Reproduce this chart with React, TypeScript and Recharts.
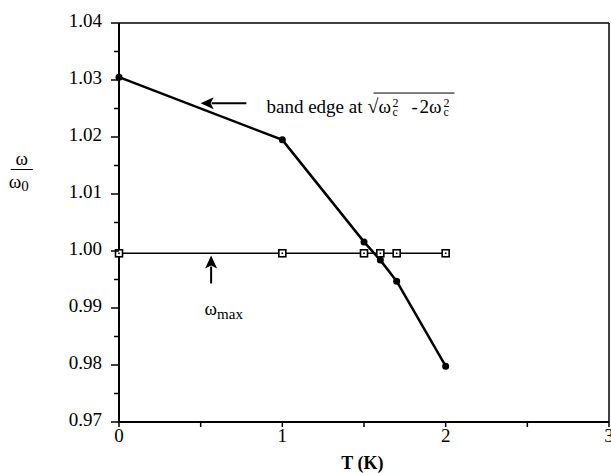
import React from 'react';
import { LineChart, Line, XAxis, YAxis, ReferenceLine, ReferenceDot } from 'recharts';

// temperatures (K) and the two frequency ratios
const temps = [0, 1, 1.5, 1.6, 1.7, 2];
const bandEdge = [1.0305, 1.0195, 1.0016, 0.9984, 0.9947, 0.9798];
const omegaMax = [0.9996, 0.9996, 0.9996, 0.9996, 0.9996, 0.9996];

const xTicks = [0, 0.5, 1, 1.5, 2, 2.5, 3];
const yTicks = [0.97, 0.975, 0.98, 0.985, 0.99, 0.995, 1.0, 1.005, 1.01, 1.015, 1.02, 1.025, 1.03, 1.035, 1.04];

const data = temps.map((T, i) => ({ T, edge: bandEdge[i], max: omegaMax[i] }));

const serif = { fontFamily: "'Liberation Serif', 'DejaVu Serif', serif" };

const YTick = (props: any) => {
    const { x, y, payload } = props;
    const v = payload.value;
    const major = Math.round(v * 1000) % 10 === 0;
    return (
        <g>
            <line x1={x - (major ? 8 : 5)} x2={x} y1={y} y2={y} stroke="#000" strokeWidth={1.5} />
            {major && (
                <text x={x - 17} y={y} dy="0.2em" textAnchor="end" style={serif} fontSize={19} fill="#000">
                    {v.toFixed(2)}
                </text>
            )}
        </g>
    );
};

const XTick = (props: any) => {
    const { x, y, payload } = props;
    const v = payload.value;
    const major = Number.isInteger(v);
    return (
        <g>
            <line x1={x} x2={x} y1={y} y2={y + 5} stroke="#000" strokeWidth={1.5} />
            {major && (
                <text x={x} y={y + 20} textAnchor="middle" style={serif} fontSize={19} fill="#000">
                    {v}
                </text>
            )}
        </g>
    );
};

const EdgeDot = (props: any) => {
    const { cx, cy } = props;
    return <circle cx={cx} cy={cy} r={3.5} fill="#000" />;
};

const SquareDot = (props: any) => {
    const { cx, cy } = props;
    return (
        <g>
            <rect x={cx - 3.5} y={cy - 3.5} width={7} height={7} fill="#fff" stroke="#000" strokeWidth={1.6} />
            <rect x={cx - 0.8} y={cy - 0.8} width={1.6} height={1.6} fill="#000" />
        </g>
    );
};

const arrowShape = (props: any) => {
    const { x1, y1, x2, y2 } = props;
    const dx = x2 - x1;
    const dy = y2 - y1;
    const len = Math.sqrt(dx * dx + dy * dy) || 1;
    const ux = dx / len;
    const uy = dy / len;
    const hl = 13;
    const hw = 6;
    const bx = x2 - ux * hl;
    const by = y2 - uy * hl;
    return (
        <g>
            <line x1={x1} y1={y1} x2={bx + ux * 2} y2={by + uy * 2} stroke="#000" strokeWidth={2} />
            <polygon
                points={`${x2},${y2} ${bx - uy * hw},${by + ux * hw} ${bx + ux * 3},${by + uy * 3} ${bx + uy * hw},${by - ux * hw}`}
                fill="#000"
            />
        </g>
    );
};

const bandEdgeLabel = (props: any) => {
    const { cx, cy } = props;
    return (
        <g style={serif} fill="#000">
            <text x={cx} y={cy} fontSize={19}>band edge at</text>
            <text x={cx + 101} y={cy} fontSize={20}>√</text>
            <line x1={cx + 107} x2={cx + 188} y1={cy - 20} y2={cy - 20} stroke="#000" strokeWidth={1} />
            <text x={cx + 112} y={cy} fontSize={19}>ω</text>
            <text x={cx + 126} y={cy - 6} fontSize={12}>2</text>
            <text x={cx + 126} y={cy + 3} fontSize={12}>c</text>
            <text x={cx + 145} y={cy} fontSize={19}>-</text>
            <text x={cx + 153} y={cy} fontSize={19}>2ω</text>
            <text x={cx + 177} y={cy - 6} fontSize={12}>2</text>
            <text x={cx + 177} y={cy + 3} fontSize={12}>c</text>
        </g>
    );
};

const omegaMaxLabel = (props: any) => {
    const { cx, cy } = props;
    return (
        <text x={cx} y={cy} style={serif} fontSize={19} fill="#000">
            ω<tspan fontSize={15} dy={4}>max</tspan>
        </text>
    );
};

const yAxisTitle = (props: any) => {
    const { cx, cy } = props;
    return (
        <g style={serif} fill="#000">
            <text x={cx} y={cy - 4} textAnchor="middle" fontSize={19}>ω</text>
            <line x1={cx - 11} x2={cx + 11} y1={cy} y2={cy} stroke="#000" strokeWidth={1} />
            <text x={cx - 3} y={cy + 19} textAnchor="middle" fontSize={19}>
                ω<tspan fontSize={15} dy={3}>0</tspan>
            </text>
        </g>
    );
};

const xAxisTitle = (props: any) => {
    const { cx, cy } = props;
    return (
        <text x={cx} y={cy} textAnchor="middle" style={serif} fontSize={18} fontWeight="bold" fill="#000">
            T  (K)
        </text>
    );
};

export default function App() {
    return (
        <div
            style={{
                position: 'absolute',
                left: 0,
                top: 0,
                width: 611,
                height: 473,
                overflow: 'hidden',
                background: '#fff',
            }}
        >
            <LineChart width={611} height={473} data={data} margin={{ top: 23, right: 2, left: 59, bottom: 1 }}>
                <XAxis
                    dataKey="T"
                    type="number"
                    domain={[0, 3]}
                    ticks={xTicks}
                    interval={0}
                    tick={<XTick />}
                    tickLine={false}
                    tickSize={0}
                    tickMargin={0}
                    height={50}
                    axisLine={{ stroke: '#000', strokeWidth: 2 }}
                />
                <YAxis
                    type="number"
                    domain={[0.97, 1.04]}
                    ticks={yTicks}
                    interval={0}
                    tick={<YTick />}
                    tickLine={false}
                    tickSize={0}
                    tickMargin={0}
                    width={60}
                    axisLine={{ stroke: '#000', strokeWidth: 2 }}
                />
                <ReferenceLine y={1.04} stroke="#000" strokeWidth={1.5} />
                <ReferenceLine x={3} stroke="#000" strokeWidth={1.5} />
                <Line
                    dataKey="max"
                    stroke="#000"
                    strokeWidth={1.5}
                    dot={<SquareDot />}
                    activeDot={false}
                    isAnimationActive={false}
                />
                <Line
                    dataKey="edge"
                    stroke="#000"
                    strokeWidth={2.5}
                    dot={<EdgeDot />}
                    activeDot={false}
                    isAnimationActive={false}
                />
                <ReferenceLine
                    segment={[{ x: 0.78, y: 1.0259 }, { x: 0.5, y: 1.0259 }]}
                    shape={arrowShape}
                    ifOverflow="visible"
                />
                <ReferenceLine
                    segment={[{ x: 0.564, y: 0.9943 }, { x: 0.564, y: 0.9992 }]}
                    shape={arrowShape}
                    ifOverflow="visible"
                />
                <ReferenceDot x={0.903} y={1.0242} shape={bandEdgeLabel} ifOverflow="visible" />
                <ReferenceDot x={0.524} y={0.9887} shape={omegaMaxLabel} ifOverflow="visible" />
                <ReferenceDot x={-0.595} y={1.0143} shape={yAxisTitle} ifOverflow="visible" />
                <ReferenceDot x={1.49} y={0.9617} shape={xAxisTitle} ifOverflow="visible" />
            </LineChart>
        </div>
    );
}
